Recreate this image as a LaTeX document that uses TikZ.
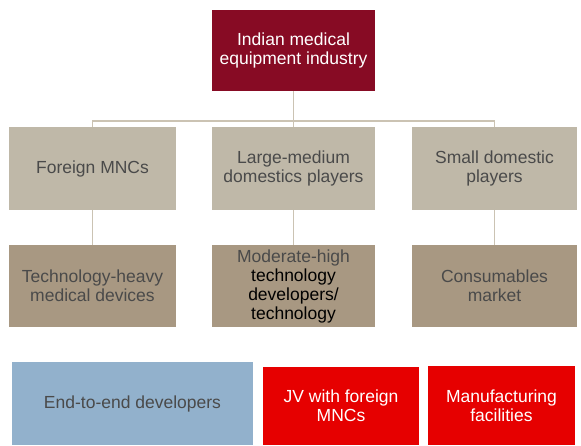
\documentclass[tikz,border=0pt]{standalone}
\usepackage{fontspec}
\setmainfont{Liberation Sans}
\usepackage{tikz}
\usetikzlibrary{positioning}
\definecolor{headred}{HTML}{870B24}
\definecolor{lighttan}{HTML}{BFB8A8}
\definecolor{darktan}{HTML}{A89882}
\definecolor{paleblue}{HTML}{92B1CC}
\definecolor{brightred}{HTML}{E60000}
\definecolor{linktan}{HTML}{CBC3B3}
\definecolor{textgray}{HTML}{4A4A4A}
\tikzset{
  box/.style={rectangle, inner sep=2pt, align=center,
    font=\fontsize{17.5}{19}\selectfont},
  headbox/.style={box, fill=headred, text=white},
  playerbox/.style={box, fill=lighttan, text=textgray},
  marketbox/.style={box, fill=darktan, text=textgray},
  devbox/.style={box, fill=paleblue, text=textgray},
  redbox/.style={box, fill=brightred, text=white},
  link/.style={draw=linktan, line width=1.4pt},
}
\begin{document}
\begin{tikzpicture}[x=1pt, y=-1pt]
  \useasboundingbox (0,0) rectangle (581,445);
  % top
  \node[headbox, minimum width=163pt, minimum height=81pt] (industry) at (293.5,50.5)
    {Indian medical\\equipment industry};
  % players
  \node[playerbox, minimum width=167pt, minimum height=83pt] (foreign) at (92.5,168.5)
    {Foreign MNCs};
  \node[playerbox, minimum width=163pt, minimum height=83pt] (large) at (293.5,168.5)
    {Large-medium\\domestics players};
  \node[playerbox, minimum width=165pt, minimum height=83pt] (small) at (494.5,168.5)
    {Small domestic\\players};
  % markets
  \node[marketbox, minimum width=167pt, minimum height=82pt] (heavy) at (92.5,286)
    {Technology-heavy\\medical devices};
  \node[marketbox, minimum width=163pt, minimum height=82pt] (moderate) at (293.5,286)
    {Moderate-high\\\textcolor{black}{technology}\\\textcolor{black}{developers/}\\\textcolor{black}{technology}};
  \node[marketbox, minimum width=165pt, minimum height=82pt] (consumables) at (494.5,286)
    {Consumables\\market};
  % bottom row
  \node[devbox, minimum width=241pt, minimum height=83pt] (endtoend) at (132.5,403.5)
    {End-to-end developers};
  \node[redbox, minimum width=156pt, minimum height=78pt] (jv) at (341,406)
    {JV with foreign\\MNCs};
  \node[redbox, minimum width=147pt, minimum height=79pt] (manufacturing) at (501.5,405.5)
    {Manufacturing\\facilities};

  % connectors
  \draw[link] (industry.south) -- (large.north);
  \draw[link] (foreign.north) -- ++(0,-6) -| (small.north);
  \draw[link] (foreign.south) -- (heavy.north);
  \draw[link] (large.south) -- (moderate.north);
  \draw[link] (small.south) -- (consumables.north);
\end{tikzpicture}
\end{document}
